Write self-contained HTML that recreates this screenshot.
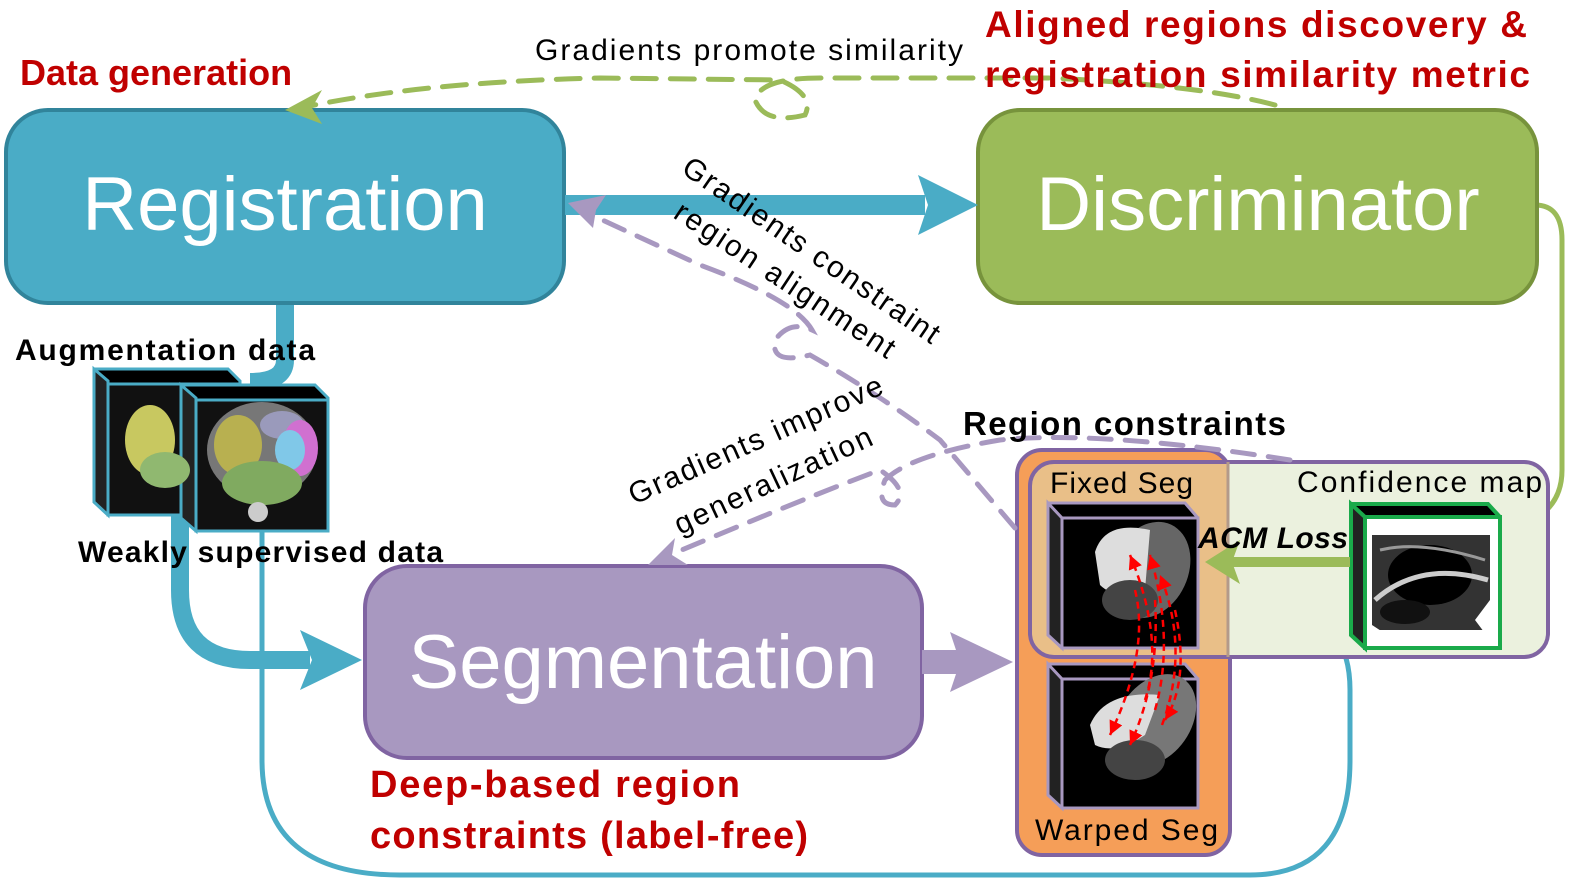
<!DOCTYPE html>
<html><head><meta charset="utf-8"><style>
html,body{margin:0;padding:0;background:#fff;width:1575px;height:887px;overflow:hidden}
svg{display:block}
text{font-family:"Liberation Sans","DejaVu Sans",sans-serif}
</style></head><body>
<svg width="1575" height="887" viewBox="0 0 1575 887" xmlns="http://www.w3.org/2000/svg">
<defs>
<marker id="rd" markerWidth="14" markerHeight="14" refX="10" refY="5" orient="auto" markerUnits="userSpaceOnUse" viewBox="0 0 10 10"><path d="M0,0 L10,5 L0,10z" fill="#f00"/></marker>
</defs>

<path d="M262,515 L262,760 Q262,875 400,875 L1250,875 Q1350,875 1350,760 L1350,690 Q1350,610 1270,610 L1230,610" fill="none" stroke="#4aacc6" stroke-width="5"/>
<path d="M1205,610 L1240,588 L1232,610 L1240,632z" fill="#4aacc6"/>

<path d="M285,300 L285,360 Q285,382 250,382" fill="none" stroke="#4aacc6" stroke-width="18"/>
<path d="M180,515 L180,590 Q180,660 250,660 L310,660" fill="none" stroke="#4aacc6" stroke-width="18"/>
<path d="M362,660 L300,630 L312,660 L300,690z" fill="#4aacc6"/>

<path d="M1535,205 Q1562,205 1562,240 L1562,470 Q1562,520 1500,530" fill="none" stroke="#9bbb59" stroke-width="5"/>

<rect x="6" y="110" width="558" height="193" rx="42" fill="#4aacc6" stroke="#31849b" stroke-width="4"/>
<text x="285" y="230" font-size="76" fill="#fff" text-anchor="middle">Registration</text>
<rect x="978" y="110" width="559" height="193" rx="42" fill="#9bbb59" stroke="#77933c" stroke-width="4"/>
<text x="1258" y="230" font-size="76" fill="#fff" text-anchor="middle">Discriminator</text>
<rect x="365" y="566" width="557" height="192" rx="42" fill="#a898c0" stroke="#8064a2" stroke-width="4"/>
<text x="643" y="688" font-size="76" fill="#fff" text-anchor="middle">Segmentation</text>

<rect x="565" y="195" width="360" height="20" fill="#4aacc6"/>
<path d="M978,205 L918,175 L928,205 L918,235z" fill="#4aacc6"/>

<rect x="922" y="650" width="40" height="24" fill="#a898c0"/>
<path d="M1013,662 L950,632 L960,662 L950,692z" fill="#a898c0"/>

<rect x="1017" y="450" width="213" height="405" rx="25" fill="#f59e58" stroke="#8064a2" stroke-width="4"/>
<rect x="1030" y="462" width="518" height="195" rx="24" fill="#ebf1de"/>
<path d="M1054,462 L1228,462 L1228,657 L1054,657 Q1030,657 1030,633 L1030,486 Q1030,462 1054,462z" fill="#e9bf88"/>
<rect x="1030" y="462" width="518" height="195" rx="24" fill="none" stroke="#8064a2" stroke-width="4"/>
<line x1="1228" y1="462" x2="1228" y2="657" stroke="#b39a8a" stroke-width="3"/>

<g stroke="#a898c0" stroke-width="3">
<path d="M1048,503 L1185,503 L1198,518 L1198,648 L1062,648 L1048,635z" fill="#000"/>
<path d="M1048,503 L1062,518 L1062,648 L1048,635z" fill="#222"/>
<rect x="1062" y="518" width="136" height="130" fill="#000"/>
<path d="M1048,664 L1185,664 L1198,679 L1198,808 L1062,808 L1048,795z" fill="#000"/>
<path d="M1048,664 L1062,679 L1062,808 L1048,795z" fill="#222"/>
<rect x="1062" y="679" width="136" height="129" fill="#000"/>
</g>
<ellipse cx="1150" cy="570" rx="38" ry="50" fill="#666" transform="rotate(25 1150 570)"/>
<path d="M1095,552 Q1105,520 1150,530 L1145,590 Q1115,600 1100,585z" fill="#ddd"/>
<ellipse cx="1130" cy="600" rx="28" ry="20" fill="#444"/>
<ellipse cx="1155" cy="720" rx="36" ry="50" fill="#777" transform="rotate(35 1155 720)"/>
<path d="M1090,725 Q1105,690 1160,695 L1145,735 Q1115,755 1095,745z" fill="#ddd"/>
<ellipse cx="1135" cy="760" rx="30" ry="20" fill="#444"/>
<g stroke="#f00" stroke-width="2.5" stroke-dasharray="7,5" fill="none" marker-end="url(#rd)">
<path d="M1145,700 Q1165,640 1130,555"/><path d="M1155,710 Q1175,640 1150,555"/><path d="M1162,725 Q1190,650 1160,575"/>
<path d="M1135,590 Q1150,650 1110,735"/><path d="M1155,600 Q1160,680 1130,745"/><path d="M1175,610 Q1190,680 1165,720"/>
</g>

<g stroke="#1aaa4a" stroke-width="4">
<path d="M1351,504 L1488,504 L1500,517 L1500,648 L1365,648 L1351,635z" fill="#000"/>
<path d="M1351,504 L1365,517 L1365,648 L1351,635z" fill="#222"/>
<rect x="1365" y="517" width="135" height="131" fill="#fff"/>
</g>
<rect x="1372" y="535" width="118" height="95" fill="#333"/>
<ellipse cx="1430" cy="575" rx="42" ry="30" fill="#000"/>
<ellipse cx="1405" cy="612" rx="25" ry="12" fill="#111"/>
<path d="M1375,600 Q1420,560 1488,580" stroke="#ccc" stroke-width="5" fill="none"/>
<path d="M1380,550 Q1420,540 1485,560" stroke="#999" stroke-width="3" fill="none"/>
<path d="M1372,625 L1395,640 L1372,640z M1475,620 L1490,600 L1490,640z" fill="#fff"/>

<rect x="1230" y="557" width="120" height="10" fill="#9bbb59"/>
<path d="M1205,562 L1240,540 L1232,562 L1240,584z" fill="#9bbb59"/>

<g stroke="#4aacc6" stroke-width="3">
<path d="M94,369 L228,369 L240,381 L240,515 L108,515 L94,502z" fill="#000"/>
<path d="M94,369 L108,381 L108,515 L94,502z" fill="#222"/>
<rect x="108" y="384" width="132" height="131" fill="#111"/>
<path d="M181,385 L315,385 L328,398 L328,531 L196,531 L181,518z" fill="#000"/>
<path d="M181,385 L196,398 L196,531 L181,518z" fill="#222"/>
<rect x="196" y="400" width="132" height="131" fill="#111"/>
</g>
<ellipse cx="150" cy="440" rx="25" ry="35" fill="#c8c860"/>
<ellipse cx="165" cy="470" rx="25" ry="18" fill="#90b870"/>
<ellipse cx="262" cy="450" rx="55" ry="48" fill="#777"/>
<ellipse cx="238" cy="445" rx="24" ry="30" fill="#b8b050"/>
<ellipse cx="282" cy="425" rx="22" ry="14" fill="#9a9abb"/>
<ellipse cx="300" cy="448" rx="18" ry="28" fill="#d070d0"/>
<ellipse cx="290" cy="450" rx="15" ry="20" fill="#80c8e8"/>
<ellipse cx="262" cy="483" rx="40" ry="22" fill="#80aa60"/>
<circle cx="258" cy="512" r="10" fill="#ccc"/>

<path d="M1275,105 Q1200,85 1050,78 L820,78 Q760,78 755,100 Q765,125 805,115 Q815,95 780,80 L600,78 Q420,82 300,108" fill="none" stroke="#9bbb59" stroke-width="5" stroke-dasharray="24,14" stroke-linecap="round"/>
<path d="M285,110 L322,90 L312,108 L322,124z" fill="#9bbb59"/>

<path d="M1015,528 L940,440 Q880,395 810,355 Q770,365 775,340 Q790,320 812,330 Q795,300 700,265 L585,212" fill="none" stroke="#a898c0" stroke-width="5" stroke-dasharray="22,14" stroke-linecap="round"/>
<path d="M568,203 L606,195 L596,210 L593,228z" fill="#a898c0"/>

<path d="M1290,460 Q1100,430 1000,440 Q910,455 885,480 Q875,505 895,505 Q910,490 880,470 Q800,500 670,555" fill="none" stroke="#a898c0" stroke-width="5" stroke-dasharray="22,14" stroke-linecap="round"/>
<path d="M648,565 L675,538 L672,555 L688,565z" fill="#a898c0"/>

<text x="20" y="85" font-size="36" font-weight="bold" fill="#c00000">Data generation</text>
<text x="985" y="37" font-size="37" font-weight="bold" fill="#c00000" textLength="542">Aligned regions discovery &amp;</text>
<text x="985" y="87" font-size="37" font-weight="bold" fill="#c00000" textLength="545">registration similarity metric</text>
<text x="535" y="60" font-size="30" fill="#000" textLength="428">Gradients promote similarity</text>
<text transform="translate(680,172) rotate(34.5)" font-size="30" fill="#000" textLength="305">Gradients constraint</text>
<text transform="translate(672,217) rotate(33.5)" font-size="30" fill="#000" textLength="258">region alignment</text>
<text transform="translate(634,505) rotate(-24)" font-size="30" fill="#000" textLength="275">Gradients improve</text>
<text transform="translate(680,535) rotate(-25)" font-size="30" fill="#000" textLength="215">generalization</text>
<text x="15" y="360" font-size="30" font-weight="bold" fill="#000" textLength="300">Augmentation data</text>
<text x="78" y="562" font-size="30" font-weight="bold" fill="#000" textLength="365">Weakly supervised data</text>
<text x="963" y="435" font-size="33" font-weight="bold" fill="#000" textLength="323">Region constraints</text>
<text x="1050" y="493" font-size="30" fill="#000" textLength="143">Fixed Seg</text>
<text x="1035" y="840" font-size="30" fill="#000" textLength="183">Warped Seg</text>
<text x="1297" y="492" font-size="30" fill="#000" textLength="245">Confidence map</text>
<text x="1198" y="548" font-size="30" font-weight="bold" font-style="italic" fill="#000" textLength="150">ACM Loss</text>
<text x="370" y="797" font-size="38" font-weight="bold" fill="#c00000" textLength="370">Deep-based region</text>
<text x="370" y="848" font-size="38" font-weight="bold" fill="#c00000" textLength="438">constraints (label-free)</text>
</svg>
</body></html>
